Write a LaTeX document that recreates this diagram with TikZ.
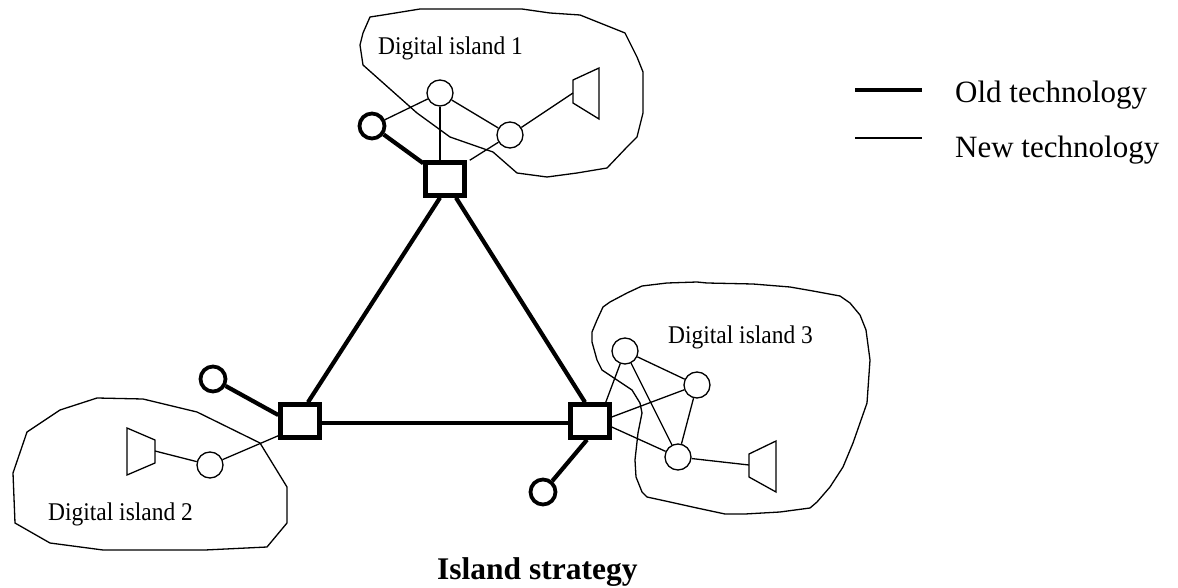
\documentclass[tikz,border=0pt]{standalone}
\usepackage{fontspec}
\setmainfont{Liberation Serif}
\begin{document}
\begin{tikzpicture}[x=1pt,y=-1pt,
  old/.style={line width=4.2pt},
  new/.style={line width=1.3pt},
  sw/.style={draw, line width=4.5pt, minimum width=39pt, minimum height=33pt, inner sep=0pt, fill=white},
  oc/.style={draw, circle, line width=3.8pt, minimum size=25pt, inner sep=0pt},
  nc/.style={draw, circle, line width=1.3pt, minimum size=26pt, inner sep=0pt},
  isl/.style={line width=1.3pt, line join=round},
  trap/.style={line width=1.3pt, line join=miter},
  lbl/.style={inner sep=0pt, font=\fontsize{25.5}{28}\selectfont, anchor=base west},
  leg/.style={inner sep=0pt, font=\fontsize{31}{34}\selectfont, anchor=base west},
]
\useasboundingbox (0,0) rectangle (1178,588);

% island outlines
\draw[isl] (363,65) -- (360,45) -- (363,33) -- (370,17) -- (383,15) -- (420,9) -- (522,9) -- (550,13) -- (580,15) -- (625,33) -- (637,57) -- (643,72) -- (643,113) -- (637,137) -- (627,147) -- (607,168) -- (577,173) -- (547,177) -- (517,173) -- (493,152) -- (450,137) -- (417,113) -- cycle;
\draw[isl] (27,432) -- (13,473) -- (15,523) -- (50,543) -- (103,550) -- (205,550) -- (267,547) -- (287,523) -- (287,487) -- (260,443) -- (197,412) -- (143,399) -- (97,398) -- (60,410) -- cycle;
\draw[isl] (642,286) -- (667,283) -- (697,282) -- (707,283) -- (753,284) -- (790,287) -- (813,291) -- (840,296) -- (850,303) -- (860,315) -- (866,330) -- (868,345) -- (870,360) -- (867,403) -- (853,443) -- (843,467) -- (830,487) -- (817,502) -- (810,508) -- (780,512) -- (745,514) -- (725,514) -- (697,508) -- (670,502) -- (647,497) -- (642,492) -- (636,477) -- (635,460) -- (638,433) -- (642,413) -- (640,403) -- (632,390) -- (617,380) -- (602,370) -- (597,360) -- (592,342) -- (592,332) -- (597,320) -- (603,307) -- (610,302) -- (627,293) -- cycle;

% labels
\node[lbl] (l1) at (378,55) {\scalebox{0.92}[1]{Digital island 1}};
\node[lbl] (l2) at (48,520) {\scalebox{0.92}[1]{Digital island 2}};
\node[lbl] (l3) at (668,343) {\scalebox{0.92}[1]{Digital island 3}};

% switches
\node[sw] (s1) at (445,179) {};
\node[sw] (s2) at (300,421) {};
\node[sw] (s3) at (590,421) {};

% old technology terminals
\node[oc] (o1) at (372,126) {};
\node[oc] (o2) at (213,379) {};
\node[oc] (o3) at (543,492) {};

% new technology nodes
\node[nc] (a1) at (440,93) {};
\node[nc] (b1) at (510,135) {};
\node[nc] (c2) at (210,465) {};
\node[nc] (a3) at (625,351) {};
\node[nc] (b3) at (697,385) {};
\node[nc] (c3) at (678,457) {};

% trapezoids (terminals)
\draw[trap] (573,80) -- (599,68) -- (599,119) -- (573,103) -- cycle;
\coordinate (t1) at (573,93);
\draw[trap] (127,428) -- (155,440) -- (155,463) -- (127,475) -- cycle;
\coordinate (t2) at (155,451);
\draw[trap] (749,454) -- (776,441) -- (776,492) -- (749,477) -- cycle;
\coordinate (t3) at (749,465);

% old technology backbone
\draw[old] ([xshift=-5pt]s1.south) -- ([xshift=8pt]s2.north);
\draw[old] ([xshift=11pt]s1.south) -- ([xshift=-5pt]s3.north);
\draw[old] ([yshift=-2pt]s2.east) -- ([yshift=-2pt]s3.west);
\draw[old] (o1) -- ([yshift=-3pt]s1.north west);
\draw[old] (o2) -- ([yshift=6pt]s2.west);
\draw[old] (o3) -- ([xshift=-3pt]s3.south);

% new technology links
\draw[new] (o1) -- (a1);
\draw[new] (a1) -- (b1);
\draw[new] (b1) -- (t1);
\draw[new] (a1.south) -- (a1.south |- s1.north);
\draw[new] (b1) -- ([xshift=3pt]s1.north east);
\draw[new] (t2) -- (c2);
\draw[new] (c2) -- ([yshift=4pt]s2.south west);
\draw[new] ([xshift=-6pt]s3.north east) -- (a3);
\draw[new] (a3) -- (b3);
\draw[new] (a3) -- (c3);
\draw[new] (b3) -- (c3);
\draw[new] ([yshift=4pt]s3.east) -- (b3);
\draw[new] ([yshift=-6pt]s3.east) -- (c3);
\draw[new] (c3) -- (t3);

% legend
\coordinate (lo1) at (855,90);
\coordinate (lo2) at (922,90);
\coordinate (ln1) at (855,138);
\coordinate (ln2) at (922,138);
\draw[old] (lo1) -- (lo2);
\draw[new] (ln1) -- (ln2);
\node[leg] (lt1) at (955,103) {Old technology};
\node[leg] (lt2) at (955,158) {New technology};

% caption
\node[leg, font=\bfseries\fontsize{31.5}{34}\selectfont] (cap) at (437,579) {Island strategy};
\end{tikzpicture}
\end{document}
